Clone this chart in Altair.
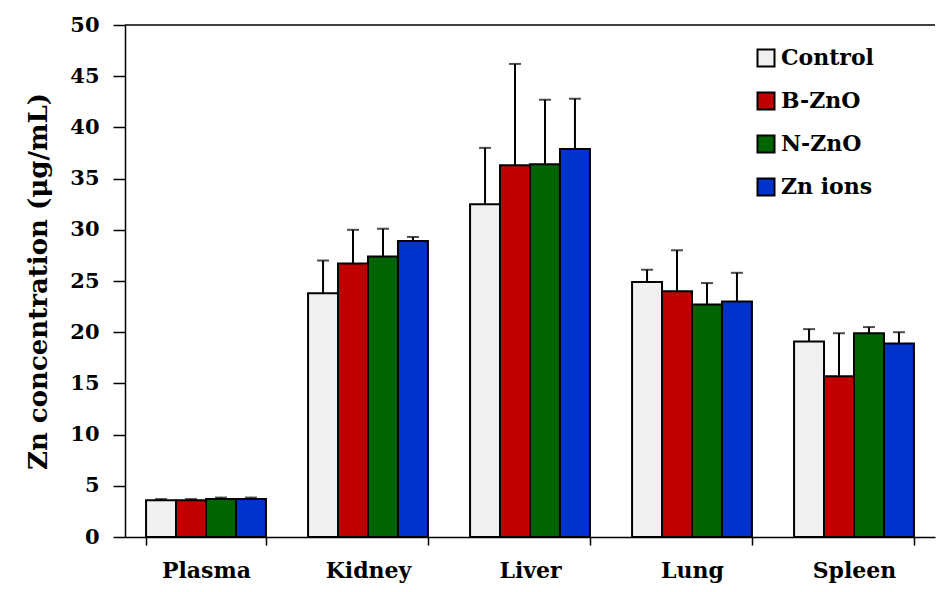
import altair as alt
import pandas as pd

organs = ["Plasma", "Kidney", "Liver", "Lung", "Spleen"]
groups = ["Control", "B-ZnO", "N-ZnO", "Zn ions"]
colors = ["#f0f0f0", "#c00000", "#006400", "#0033cc"]

control = [3.6, 23.8, 32.5, 24.9, 19.1]
bzno = [3.6, 26.7, 36.3, 24.0, 15.7]
nzno = [3.7, 27.4, 36.4, 22.7, 19.9]
znions = [3.7, 28.9, 37.9, 23.0, 18.9]

control_sd = [0.1, 3.2, 5.5, 1.2, 1.2]
bzno_sd = [0.1, 3.3, 9.9, 4.0, 4.2]
nzno_sd = [0.15, 2.7, 6.3, 2.1, 0.6]
znions_sd = [0.15, 0.4, 4.9, 2.8, 1.1]

rows = []
for g, vals, sds in zip(groups, [control, bzno, nzno, znions],
                        [control_sd, bzno_sd, nzno_sd, znions_sd]):
    for o, v, s in zip(organs, vals, sds):
        rows.append({"organ": o, "group": g, "value": v, "upper": v + s})
df = pd.DataFrame(rows)

FONT = "DejaVu Serif"

x_enc = alt.X("organ:N", sort=organs,
              scale=alt.Scale(paddingInner=0.26, paddingOuter=0.13),
              axis=alt.Axis(title=None, labelAngle=0, tickBand="extent",
                            tickSize=8, labelPadding=15, labelFontSize=22,
                            labelFontWeight="bold", labelColor="black",
                            domainColor="black", domainWidth=1.5,
                            tickColor="black", tickWidth=1.5))
xo_enc = alt.XOffset("group:N", sort=groups, scale=alt.Scale(paddingInner=0, paddingOuter=0))

y_scale = alt.Scale(domain=[0, 50], nice=False)

base = alt.Chart(df)

bars = base.mark_bar(stroke="black", strokeWidth=2).encode(
    x=x_enc,
    xOffset=xo_enc,
    y=alt.Y("value:Q", scale=y_scale,
            axis=alt.Axis(title="Zn concentration (μg/mL)", values=list(range(0, 51, 5)),
                          grid=False, tickSize=12, labelPadding=14, labelFontSize=21,
                          labelFontWeight="bold", labelColor="black",
                          titleFontSize=26, titleFontWeight="bold", titleColor="black",
                          titlePadding=18, domainColor="black", domainWidth=1.5,
                          tickColor="black", tickWidth=1.5)),
    fill=alt.Fill("group:N", sort=groups,
                  scale=alt.Scale(domain=groups, range=colors),
                  legend=alt.Legend(title=None, orient="none", legendX=630, legendY=22,
                                    symbolType="square", symbolSize=289,
                                    symbolStrokeColor="black", symbolStrokeWidth=2,
                                    symbolOpacity=1, labelFontSize=22,
                                    labelFontWeight="bold", labelColor="black",
                                    labelOffset=4, rowPadding=17)),
)

err = base.mark_rule(color="black", strokeWidth=2).encode(
    x=alt.X("organ:N", sort=organs),
    xOffset=alt.XOffset("group:N", sort=groups),
    y=alt.Y("value:Q", scale=y_scale),
    y2="upper:Q",
)

caps = base.mark_tick(color="black", thickness=2, size=12, orient="horizontal").encode(
    x=alt.X("organ:N", sort=organs),
    xOffset=alt.XOffset("group:N", sort=groups),
    y=alt.Y("upper:Q", scale=y_scale),
)

top = alt.Chart(pd.DataFrame({"top": [50]})).mark_rule(color="black", strokeWidth=1.5).encode(
    y=alt.Y("top:Q", scale=y_scale)
)

chart = alt.layer(bars, err, caps, top).properties(
    width=810, height=512,
    autosize=alt.AutoSizeParams(type="none"),
    padding={"left": 117, "top": 17, "right": 2, "bottom": 47},
).configure(font=FONT).configure_view(stroke=None)

chart.save("out.html", embed_options={"renderer": "svg", "actions": False})
